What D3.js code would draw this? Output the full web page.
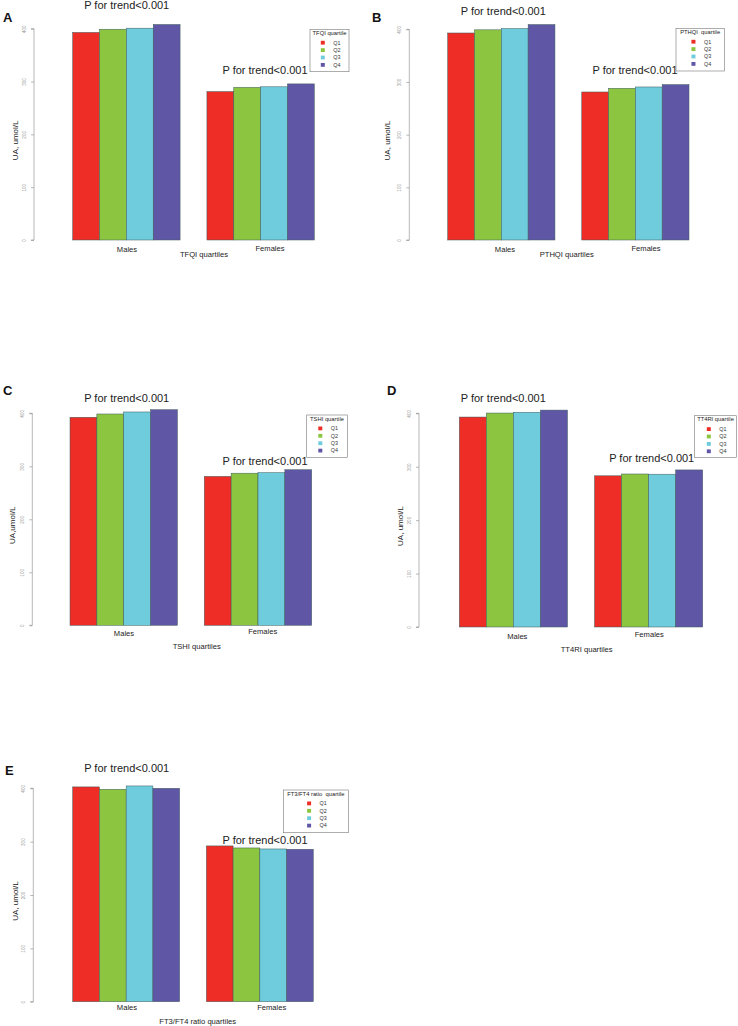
<!DOCTYPE html>
<html>
<head>
<meta charset="utf-8">
<script src="https://cdn.jsdelivr.net/npm/d3@7/dist/d3.min.js"></script>
<style>
  html, body { margin: 0; padding: 0; background: #fff; }
  svg { display: block; font-family: "Liberation Sans", Arial, sans-serif; }
</style>
</head>
<body>
<svg id="chart" width="738" height="1026"></svg>
<script>
// ---------- DATA ----------
const sexes = ["Males", "Females"];
const quartiles = ["Q1", "Q2", "Q3", "Q4"];
const yTicks = [0, 100, 200, 300, 400];
const pText = "P for trend<0.001";

const tfqiMales = [393, 399, 401, 408];
const tfqiFemales = [281, 289, 290, 295.5];
const pthqiMales = [393, 399, 401.5, 409];
const pthqiFemales = [281, 288, 290.5, 295];
const tshiMales = [392.5, 398.7, 402.5, 406.8];
const tshiFemales = [281, 287, 288, 293.5];
const tt4riMales = [393, 400.5, 402, 406];
const tt4riFemales = [283, 286.4, 286, 294];
const ratioMales = [402.6, 398.2, 404.4, 400];
const ratioFemales = [292, 288.2, 286.3, 285.7];

const panelLetters = ["A", "B", "C", "D", "E"];
const legendTitles = ["TFQI quartile", "PTHQI\u00a0\u00a0quartile", "TSHI quartile", "TT4RI quartile", "FT3/FT4 ratio\u00a0\u00a0quartile"];
const xTitles = ["TFQI quartiles", "PTHQI quartiles", "TSHI quartiles", "TT4RI quartiles", "FT3/FT4 ratio quartiles"];
const yTitles = ["UA, umol/L", "UA, umol/L", "UA,umol/L", "UA, umol/L", "UA, umol/L"];
const panelValues = [
  [tfqiMales, tfqiFemales],
  [pthqiMales, pthqiFemales],
  [tshiMales, tshiFemales],
  [tt4riMales, tt4riFemales],
  [ratioMales, ratioFemales]
];

// ---------- STYLE / LAYOUT ----------
const colors = ["#ED2D26", "#8CC540", "#6FCCDD", "#5F57A6"];
const layouts = [
  { ax: 34, y0: 240, yTop: 28.7, xs: 72.7, xe: 314.3, letter: [3, 21.7], pM: [126.7, 9], pF: [265, 74],
    leg: [310, 29.3, 39, 42.4], yT: 15, mL: [127, 251.5], fL: [270, 250.5], xT: [204, 256.5] },
  { ax: 409.3, y0: 240, yTop: 29.3, xs: 447.7, xe: 689, letter: [372, 21.7], pM: [503.3, 14.5], pF: [635, 74],
    leg: [676, 28.3, 48.3, 42.7], yT: 387.3, mL: [505, 251.5], fL: [646, 250.5], xT: [566.7, 256.5] },
  { ax: 32.3, y0: 625.3, yTop: 413.3, xs: 70, xe: 311.7, letter: [3, 395], pM: [126.7, 401.7], pF: [265, 465],
    leg: [306.7, 415, 40.6, 42.3], yT: 12.3, mL: [124, 635.7], fL: [262.7, 634], xT: [196.7, 648.5] },
  { ax: 419, y0: 627, yTop: 413.3, xs: 459.3, xe: 702.7, letter: [387, 395], pM: [503.3, 401.7], pF: [651.7, 461.7],
    leg: [694.3, 415.7, 42.4, 41.6], yT: 400, mL: [517.3, 638.5], fL: [649.3, 637], xT: [586.7, 652] },
  { ax: 33.3, y0: 1001.7, yTop: 788.3, xs: 72.7, xe: 313.3, letter: [5, 775], pM: [126.7, 771.7], pF: [265, 844.3],
    leg: [283.3, 790, 65, 42.7], yT: 15, mL: [127, 1010], fL: [271.7, 1010], xT: [197.7, 1023.5] }
];

const svg = d3.select("#chart");

panelValues.forEach((vals, pi) => {
  const L = layouts[pi];
  const g = svg.append("g");

  const y = d3.scaleLinear().domain([0, 400]).range([L.y0, L.yTop]);
  // R barplot(beside=TRUE) units: group g, bar i occupies [1 + 5g + i, 2 + 5g + i]
  const x = d3.scaleLinear().domain([1, 10]).range([L.xs, L.xe]);

  // panel letter
  g.append("text").attr("x", L.letter[0]).attr("y", L.letter[1])
    .attr("font-size", 13).attr("font-weight", "bold").attr("fill", "#111")
    .text(panelLetters[pi]);

  // bars
  const barData = [];
  vals.forEach((series, gi) => series.forEach((v, qi) => barData.push({ gi, qi, v })));
  g.selectAll("rect.bar").data(barData).enter().append("rect")
    .attr("class", "bar")
    .attr("x", d => x(1 + 5 * d.gi + d.qi))
    .attr("width", d => x(2 + 5 * d.gi + d.qi) - x(1 + 5 * d.gi + d.qi))
    .attr("y", d => y(d.v))
    .attr("height", d => y(0) - y(d.v))
    .attr("fill", d => colors[d.qi])
    .attr("stroke", "#3c5a5a")
    .attr("stroke-width", 0.5);

  // y axis
  const axis = d3.axisLeft(y).tickValues(yTicks).tickSize(3).tickFormat(d3.format("d"));
  const ag = g.append("g").attr("transform", `translate(${L.ax},0)`).call(axis);
  ag.select(".domain").attr("stroke", "#888").attr("stroke-width", 0.6)
    .attr("d", `M-3,${y(0)}H0V${y(400)}H-3`);
  ag.selectAll(".tick line").attr("stroke", "#888").attr("stroke-width", 0.6);
  ag.selectAll(".tick text")
    .attr("font-size", 4.6).attr("fill", "#999")
    .attr("text-anchor", "middle")
    .attr("transform", "translate(-10,0) rotate(-90)")
    .attr("x", 0).attr("y", 0).attr("dy", "0.35em")
    .style("font-family", "'Liberation Sans', Arial, sans-serif");

  // y title
  g.append("text")
    .attr("transform", `translate(${L.yT},${(y(0) + y(400)) / 2 + 6}) rotate(-90)`)
    .attr("text-anchor", "middle").attr("dy", "0.35em")
    .attr("font-size", 8).attr("fill", "#222")
    .text(yTitles[pi]);

  // P for trend texts
  g.append("text").attr("x", L.pM[0]).attr("y", L.pM[1]).attr("text-anchor", "middle")
    .attr("font-size", 11).attr("fill", "#222").text(pText);
  g.append("text").attr("x", L.pF[0]).attr("y", L.pF[1]).attr("text-anchor", "middle")
    .attr("font-size", 11).attr("fill", "#222").text(pText);

  // group labels
  [L.mL, L.fL].forEach((pos, si) => {
    g.append("text").attr("x", pos[0]).attr("y", pos[1]).attr("text-anchor", "middle")
      .attr("font-size", 7.6).attr("fill", "#222").text(sexes[si]);
  });

  // x title
  g.append("text").attr("x", L.xT[0]).attr("y", L.xT[1]).attr("text-anchor", "middle")
    .attr("font-size", 7.6).attr("fill", "#222").text(xTitles[pi]);

  // legend
  const [lx, ly, lw, lh] = L.leg;
  const lg = g.append("g").attr("transform", `translate(${lx},${ly})`);
  lg.append("rect").attr("width", lw).attr("height", lh)
    .attr("fill", "#fff").attr("stroke", "#777").attr("stroke-width", 0.6);
  lg.append("text").attr("x", lw / 2).attr("y", 5.8).attr("text-anchor", "middle")
    .attr("font-size", 5.8).attr("fill", "#222").text(legendTitles[pi]);
  const items = lg.selectAll("g.item").data(quartiles).enter().append("g")
    .attr("class", "item")
    .attr("transform", (d, i) => `translate(${lw / 2},${13.4 + i * 7.4})`);
  items.append("rect").attr("x", -8.7).attr("y", -1.9).attr("width", 4).attr("height", 3.8)
    .attr("fill", (d, i) => colors[i]);
  items.append("text").attr("x", 3.8).attr("y", 0).attr("dy", "0.35em")
    .attr("font-size", 5.4).attr("fill", "#333").text(d => d);
});
</script>
</body>
</html>
